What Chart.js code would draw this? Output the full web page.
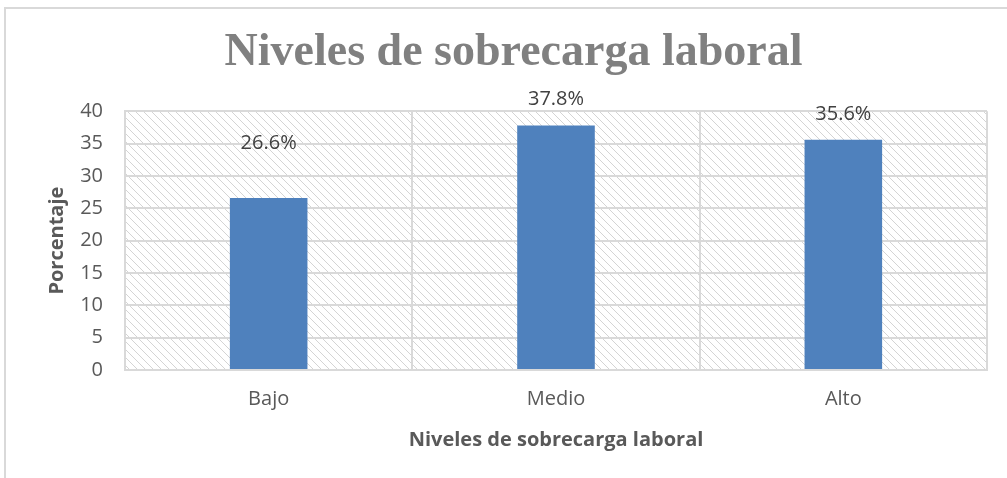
<!DOCTYPE html>
<html>
<head>
<meta charset="utf-8">
<script src="https://cdn.jsdelivr.net/npm/chart.js@4.4.1/dist/chart.umd.min.js"></script>
<style>
    html, body { margin: 0; padding: 0; background: #fff; }
    #wrap { position: relative; width: 1007px; height: 478px; overflow: hidden; }
    #frame { position: absolute; left: 4px; top: 7px; width: 1100px; height: 600px; border-top: 2px solid #d9d9d9; border-left: 2px solid #d9d9d9; }
    #chart { position: absolute; left: 0; top: 0; }
</style>
</head>
<body>
<div id="wrap">
    <div id="frame"></div>
    <canvas id="chart" width="1007" height="478"></canvas>
</div>
<script>
// datos del grafico
const categorias = ['Bajo', 'Medio', 'Alto'];
const porcentajes = [26.6, 37.8, 35.6];
const etiquetas = ['26.6%', '37.8%', '35.6%'];
const yTicks = [0, 5, 10, 15, 20, 25, 30, 35, 40];

const tickFont = { family: 'Open Sans', size: 20 };
const grisTexto = '#595959';
const grisLinea = '#d9d9d9';

// fondo rayado del area de trazado
function makeHatch() {
    const c = document.createElement('canvas');
    c.width = 8; c.height = 8;
    const g = c.getContext('2d');
    g.fillStyle = '#fff';
    g.fillRect(0, 0, 8, 8);
    g.strokeStyle = '#d4d4d4';
    g.lineWidth = 1;
    g.beginPath();
    g.moveTo(-1, -1); g.lineTo(9, 9);
    g.moveTo(-5, 3); g.lineTo(5, 13);
    g.moveTo(3, -5); g.lineTo(13, 5);
    g.stroke();
    return c;
}

const hatchBg = {
    id: 'hatchBg',
    beforeDraw(chart) {
        const { ctx, chartArea: a } = chart;
        ctx.save();
        ctx.fillStyle = ctx.createPattern(makeHatch(), 'repeat');
        ctx.fillRect(a.left, a.top, a.right - a.left, a.bottom - a.top);
        ctx.restore();
    }
};

// etiquetas de datos encima de las barras
const labelPlugin = {
    id: 'barLabels',
    afterDatasetsDraw(chart, args, opts) {
        const { ctx } = chart;
        const meta = chart.getDatasetMeta(0);
        ctx.save();
        ctx.font = '20px "Open Sans"';
        ctx.fillStyle = '#404040';
        ctx.textAlign = 'center';
        ctx.textBaseline = 'middle';
        meta.data.forEach((bar, i) => {
            const off = opts.offsets[i] || 25;
            ctx.fillText(etiquetas[i], bar.x, bar.y - off);
        });
        ctx.restore();
    }
};

new Chart(document.getElementById('chart'), {
    type: 'bar',
    data: {
        labels: categorias,
        datasets: [{
            data: porcentajes,
            backgroundColor: '#4f81bd',
            categoryPercentage: 1,
            barPercentage: 0.27
        }]
    },
    plugins: [hatchBg, labelPlugin],
    options: {
        responsive: false,
        animation: false,
        layout: { padding: { top: 3, right: 20, left: 40, bottom: 22 } },
        plugins: {
            legend: { display: false },
            tooltip: { enabled: false },
            title: {
                display: true,
                text: 'Niveles de sobrecarga laboral',
                color: '#808080',
                font: { family: 'Liberation Serif', size: 46, weight: 'bold' },
                padding: { top: 23, bottom: 30 }
            },
            barLabels: { offsets: [55, 26, 25] }
        },
        scales: {
            x: {
                grid: { color: grisLinea, lineWidth: 2, offset: true, drawTicks: false },
                border: { color: grisLinea, width: 2 },
                ticks: { color: grisTexto, font: tickFont, padding: 17 },
                title: {
                    display: true,
                    text: 'Niveles de sobrecarga laboral',
                    color: grisTexto,
                    font: { family: 'Open Sans', size: 20, weight: 'bold' },
                    padding: { top: 0, bottom: 4 }
                }
            },
            y: {
                min: 0,
                max: 40,
                afterBuildTicks(scale) { scale.ticks = yTicks.map(v => ({ value: v })); },
                afterFit(scale) { scale.width = 85; },
                grid: { color: grisLinea, lineWidth: 2, drawTicks: false },
                border: { color: grisLinea, width: 2 },
                ticks: { color: grisTexto, font: tickFont, padding: 22 },
                title: {
                    display: true,
                    text: 'Porcentaje',
                    color: grisTexto,
                    font: { family: 'Open Sans', size: 20, weight: 'bold' },
                    padding: { top: 5, bottom: 11 }
                }
            }
        }
    },
});
</script>
</body>
</html>
